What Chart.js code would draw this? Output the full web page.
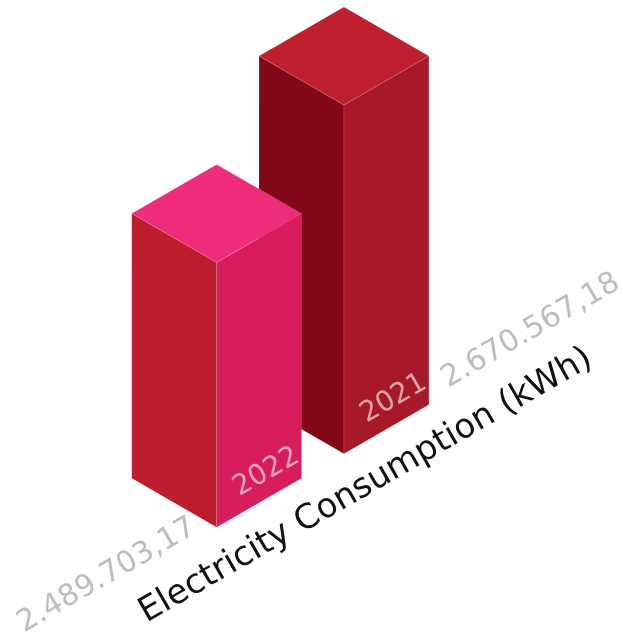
<!DOCTYPE html>
<html>
<head>
<meta charset="utf-8">
<script src="https://cdn.jsdelivr.net/npm/chart.js@4"></script>
<style>
  html, body { margin: 0; padding: 0; background: #fff; }
  #wrap { width: 623px; height: 635px; }
</style>
</head>
<body>
<div id="wrap"><canvas id="chart"></canvas></div>
<script>
const years = ['2022', '2021'];
const consumption = [2489703.17, 2670567.18];
const valueLabels = ['2.489.703,17', '2.670.567,18'];
const axisTitle = 'Electricity Consumption (kWh)';
const axisMin = 1920000;
const axisMax = 2800000;

// left / right / top face colours for each bar
const faceColors = [
  { left: '#BC1E2E', right: '#D81D5C', top: '#EE2C7B' },
  { left: '#820818', right: '#A71828', top: '#C01F30' }
];

const COS = Math.cos(Math.PI / 6);
const SIN = Math.sin(Math.PI / 6);

// point (x, y) of the chart plane, pushed d px towards the viewer, in isometric screen space
function iso(area, x, y, d) {
  const u = x - area.left;
  return [area.left + (u + d) * COS, y + (d - u) * SIN];
}

function face(ctx, pts, color) {
  ctx.beginPath();
  ctx.moveTo(pts[0][0], pts[0][1]);
  for (let i = 1; i < pts.length; i++) ctx.lineTo(pts[i][0], pts[i][1]);
  ctx.closePath();
  ctx.fillStyle = color;
  ctx.fill();
  ctx.strokeStyle = 'rgba(255,255,255,0.18)';
  ctx.lineWidth = 0.6;
  ctx.stroke();
}

function isoText(ctx, text, pt, align, font, color) {
  ctx.save();
  ctx.translate(pt[0], pt[1]);
  ctx.rotate(-Math.PI / 6);
  ctx.font = font;
  ctx.fillStyle = color;
  ctx.textAlign = align;
  ctx.textBaseline = 'alphabetic';
  ctx.fillText(text, 0, 0);
  ctx.restore();
}

const isoBars = {
  id: 'isoBars',
  afterDraw(chart) {
    const ctx = chart.ctx;
    const area = chart.chartArea;
    const floor = chart.scales.y.getBasePixel();
    const props = chart.getDatasetMeta(0).data.map(b => b.getProps(['x', 'y', 'width'], true));

    // back bar first, the front one covers it
    for (let i = props.length - 1; i >= 0; i--) {
      const { x, y, width } = props[i];
      const hw = width / 2, xl = x - hw, xr = x + hw;
      const c = faceColors[i];
      face(ctx, [iso(area, xl, y, -hw), iso(area, xl, y, hw), iso(area, xl, floor, hw), iso(area, xl, floor, -hw)], c.left);
      face(ctx, [iso(area, xl, y, hw), iso(area, xr, y, hw), iso(area, xr, floor, hw), iso(area, xl, floor, hw)], c.right);
      face(ctx, [iso(area, xl, y, -hw), iso(area, xr, y, -hw), iso(area, xr, y, hw), iso(area, xl, y, hw)], c.top);
      isoText(ctx, years[i], iso(area, xl + 26, floor - 18, hw), 'left', '28px "DejaVu Sans"', 'rgba(255,255,255,0.6)');
    }

    // value labels on the floor, before the first bar and after the last one
    const first = props[0], last = props[props.length - 1];
    isoText(ctx, valueLabels[0], iso(area, first.x - first.width / 2 - 16, floor, 43), 'right', '30px "DejaVu Sans"', '#BDBDBD');
    isoText(ctx, valueLabels[1], iso(area, last.x + last.width / 2 + 28, floor, 43), 'left', '30px "DejaVu Sans"', '#BDBDBD');

    // axis title
    isoText(ctx, axisTitle, iso(area, (area.left + area.right) / 2, floor, 104), 'center', '34px "DejaVu Sans"', '#111111');
  }
};

new Chart(document.getElementById('chart'), {
  type: 'bar',
  data: {
    labels: years,
    datasets: [{
      label: axisTitle,
      data: consumption,
      base: axisMin,
      backgroundColor: 'rgba(0,0,0,0)',
      borderWidth: 0,
      barPercentage: 1,
      categoryPercentage: 0.667
    }]
  },
  options: {
    responsive: true,
    maintainAspectRatio: false,
    animation: false,
    events: [],
    layout: { padding: { left: 153, right: 176, top: 106, bottom: 120 } },
    plugins: { legend: { display: false }, tooltip: { enabled: false } },
    scales: {
      x: { display: false },
      y: { display: false, min: axisMin, max: axisMax }
    }
  },
  plugins: [isoBars]
});
</script>
</body>
</html>
